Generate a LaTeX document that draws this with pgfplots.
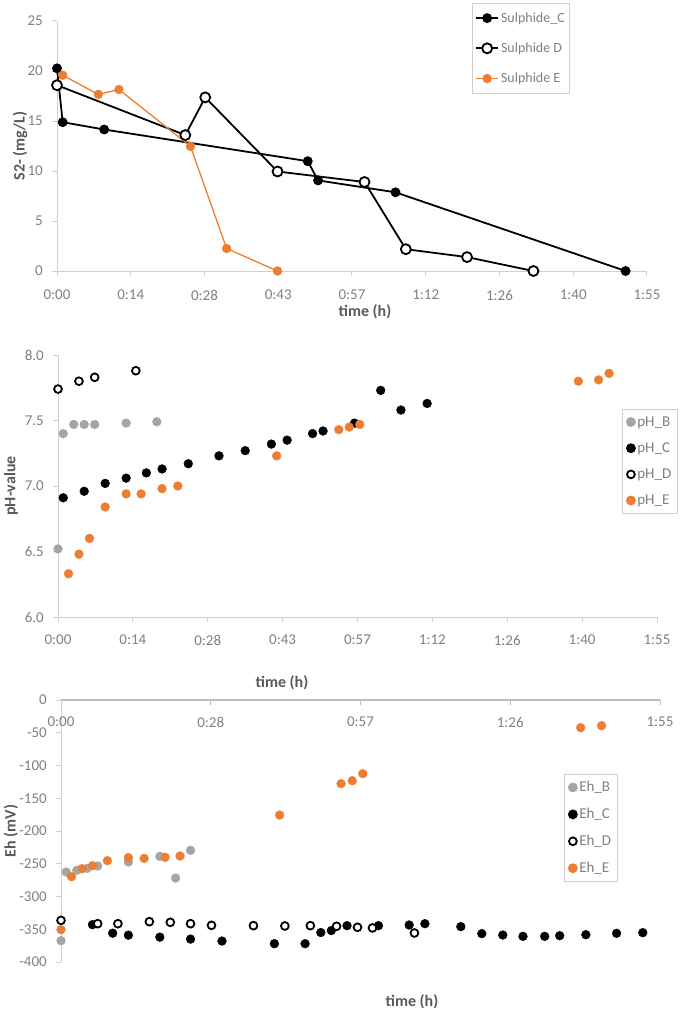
\documentclass[border=0pt]{standalone}
\usepackage{fontspec}
\setmainfont{Carlito}
\usepackage{pgfplots}
\pgfplotsset{compat=1.18}

\definecolor{xorange}{HTML}{ED7D31}
\definecolor{xgray}{HTML}{A5A5A5}
\definecolor{axgray}{HTML}{D0D0D0}
\definecolor{axdark}{HTML}{BDBDBD}
\definecolor{txgray}{HTML}{808080}
\definecolor{ttl}{HTML}{595959}

% x is time in steps of 0.01 d (14.4 min): 0..8 = 0:00..1:55
\pgfplotsset{
  base/.style={
    scale only axis, clip=false,
    axis x line*=bottom, axis y line*=left,
    axis line style={axgray, line width=1pt, -},
    tick style={axgray, line width=1pt},
    tick align=outside, major tick length=5pt,
    xmin=0, xmax=8,
    tick label style={font=\fontsize{15}{18}\selectfont, text=txgray},
    yticklabel style={inner sep=0pt, xshift=-9pt},
    xticklabel style={inner sep=0pt, yshift=-14pt},
    legend cell align=left,
  },
  scat/.style={
    legend style={font=\fontsize{15}{17}\selectfont, text=txgray, draw=axgray,
      line width=1pt, inner xsep=4pt, inner ysep=5pt, row sep=11pt,
      anchor=north west},
    legend image code/.code={\draw[mark repeat=2,mark phase=2]
      plot coordinates {(0pt,0pt) (4pt,0pt) (8pt,0pt)};},
  },
}

\begin{document}
\begin{tikzpicture}
\useasboundingbox (0,0) rectangle (685pt,-1014pt);

% ---------- sulphide ----------
\begin{axis}[base,
  at={(57pt,-271pt)}, anchor=south west, width=590pt, height=250pt,
  ymin=0, ymax=25, ytick={0,5,10,15,20,25},
  yticklabels={0,5,10,15,20,25},
  xtick={0,...,8},
  xticklabels={0:00,0:14,0:28,0:43,0:57,1:12,1:26,1:40,1:55},
  legend style={at={(0.703,1.072)}, anchor=north west,
    font=\fontsize{14}{16}\selectfont, text=txgray, draw=axgray,
    line width=1pt, inner xsep=3pt, inner ysep=7pt, row sep=15pt},
  legend image code/.code={\draw[mark repeat=2,mark phase=2]
    plot coordinates {(0pt,0pt) (11pt,0pt) (22pt,0pt)};},
]
\addplot[black, line width=1.8pt, mark=*, mark size=4pt] coordinates {
  (0,20.27) (0.077,14.88) (0.64,14.15) (3.40,10.98) (3.54,9.06) (4.59,7.87) (7.71,0)
};
\addlegendentry{Sulphide\_C}
\addplot[black, line width=1.8pt, mark=*, mark size=5pt,
  mark options={fill=white, line width=1.8pt}] coordinates {
  (0,18.58) (1.74,13.59) (2.01,17.36) (2.99,9.95) (4.17,8.90) (4.73,2.18) (5.56,1.39) (6.46,0)
};
\addlegendentry{Sulphide D}
\addplot[xorange, line width=1.3pt, mark=*, mark size=4pt] coordinates {
  (0.077,19.58) (0.56,17.66) (0.84,18.15) (1.81,12.47) (2.30,2.25) (2.99,0)
};
\addlegendentry{Sulphide E}
\end{axis}

% ---------- pH ----------
\begin{axis}[base, scat,
  at={(58pt,-617pt)}, anchor=south west, width=599pt, height=262pt,
  ymin=6, ymax=8, ytick={6,6.5,7,7.5,8},
  yticklabels={6.0,6.5,7.0,7.5,8.0},
  xtick={0,...,8},
  xticklabels={0:00,0:14,0:28,0:43,0:57,1:12,1:26,1:40,1:55},
  xticklabel style={yshift=1pt},
  legend style={at={(0.9416,0.794)}},
]
\addplot[only marks, mark=*, mark size=4.4pt, xgray, mark options={draw=none, fill=xgray}] coordinates {
  (0,6.52) (0.07,7.40) (0.21,7.47) (0.35,7.47) (0.49,7.47) (0.91,7.48) (1.32,7.49)
};
\addlegendentry{pH\_B}
\addplot[only marks, mark=*, mark size=4.4pt, black] coordinates {
  (0.07,6.91) (0.35,6.96) (0.63,7.02) (0.91,7.06) (1.18,7.10) (1.39,7.13) (1.74,7.17)
  (2.15,7.23) (2.50,7.27) (2.85,7.32) (3.06,7.35) (3.40,7.40) (3.54,7.42) (3.96,7.48)
  (4.31,7.73) (4.58,7.58) (4.93,7.63)
};
\addlegendentry{pH\_C}
\addplot[only marks, mark=*, mark size=3.9pt, black, mark options={fill=white, line width=1.8pt}] coordinates {
  (0,7.74) (0.28,7.80) (0.49,7.83) (1.04,7.88)
};
\addlegendentry{pH\_D}
\addplot[only marks, mark=*, mark size=4.4pt, xorange] coordinates {
  (0.14,6.33) (0.28,6.48) (0.42,6.60) (0.63,6.84) (0.91,6.94) (1.11,6.94) (1.39,6.98)
  (1.60,7.00) (2.92,7.23) (3.75,7.43) (3.89,7.45) (4.03,7.47) (6.95,7.80) (7.22,7.81)
  (7.36,7.86)
};
\addlegendentry{pH\_E}
\end{axis}

% ---------- Eh ----------
\begin{axis}[base, scat,
  axis x line*=top, xtick align=inside,
  xticklabel style={anchor=north, inner sep=0pt, yshift=-3pt},
  at={(61pt,-962pt)}, anchor=south west, width=599pt, height=262pt,
  ymin=-400, ymax=0, ytick={-400,-350,...,0},
  yticklabels={-400,-350,-300,-250,-200,-150,-100,-50,0},
  xtick={0,2,4,6,8},
  xticklabels={0:00,0:28,0:57,1:26,1:55},
  legend style={at={(0.8397,0.7176)}},
]
% x axis line along Eh = 0 (top of the box), with its ticks
\draw[color=axdark, line width=1.6pt] (axis cs:0,0) -- (axis cs:8,0);
\draw[color=axdark, line width=1pt] (axis cs:2,0) -- ++(0pt,-5pt);
\draw[color=axdark, line width=1pt] (axis cs:4,0) -- ++(0pt,-5pt);
\draw[color=axdark, line width=1pt] (axis cs:6,0) -- ++(0pt,-5pt);
\draw[color=axdark, line width=1pt] (axis cs:8,0) -- ++(0pt,-5pt);
\addplot[only marks, mark=*, mark size=4.4pt, xgray, mark options={draw=none, fill=xgray}] coordinates {
  (0,-367.4) (0.07,-262.6) (0.21,-260) (0.35,-257) (0.49,-253.4) (0.90,-247.3)
  (1.32,-238.7) (1.53,-271.8) (1.73,-229.5)
};
\addlegendentry{Eh\_B}
\addplot[only marks, mark=*, mark size=4.4pt, black] coordinates {
  (0.42,-343) (0.69,-356) (0.90,-359) (1.32,-362) (1.73,-365) (2.15,-368) (2.85,-372)
  (3.26,-372) (3.47,-355) (3.61,-352) (3.82,-344.5) (4.24,-344.5) (4.65,-343.5)
  (4.86,-341.5) (5.34,-346) (5.62,-356.7) (5.90,-358.8) (6.17,-360.8) (6.46,-360.8)
  (6.66,-359.8) (7.01,-358.3) (7.42,-356.2) (7.77,-355.2)
};
\addlegendentry{Eh\_C}
\addplot[only marks, mark=*, mark size=3.9pt, black, mark options={fill=white, line width=1.8pt}] coordinates {
  (0,-336.4) (0.49,-341.5) (0.76,-341.5) (1.18,-338.4) (1.46,-339.4) (1.73,-341.5)
  (2.01,-344) (2.57,-344.5) (2.99,-345) (3.33,-344.5) (3.68,-345.5) (3.96,-347)
  (4.16,-348) (4.72,-355.7)
};
\addlegendentry{Eh\_D}
\addplot[only marks, mark=*, mark size=4.4pt, xorange] coordinates {
  (0,-350.6) (0.14,-269.7) (0.28,-257.5) (0.42,-253) (0.62,-245.3) (0.90,-240.7)
  (1.11,-241.7) (1.39,-240.2) (1.59,-238.2) (2.92,-175.6) (3.74,-127.7) (3.89,-123.2)
  (4.03,-112.5) (6.94,-42.2) (7.22,-39.2)
};
\addlegendentry{Eh\_E}
\end{axis}

% axis titles
\tikzset{ttlfont/.style={font=\bfseries\fontsize{16}{19}\selectfont, text=ttl}}
\node[ttlfont] at (365pt,-312pt) {time (h)};
\node[ttlfont, rotate=90] at (20pt,-146pt) {S2- (mg/L)};
\node[ttlfont] at (282pt,-683pt) {time (h)};
\node[ttlfont, rotate=90] at (11pt,-486pt) {pH-value};
\node[ttlfont] at (412pt,-1002pt) {time (h)};
\node[ttlfont, rotate=90] at (11pt,-831pt) {Eh (mV)};
\end{tikzpicture}
\end{document}
